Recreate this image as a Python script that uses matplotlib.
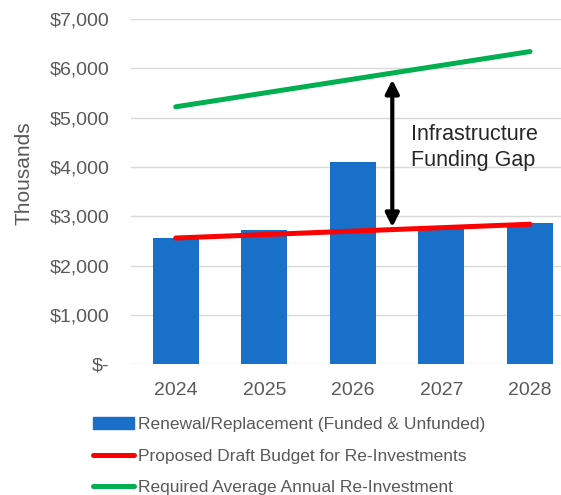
import matplotlib
matplotlib.use("Agg")
import matplotlib.pyplot as plt
from matplotlib.ticker import FuncFormatter
from matplotlib.patches import Patch
from matplotlib.lines import Line2D

years = ["2024", "2025", "2026", "2027", "2028"]
renewal = [2560, 2720, 4110, 2740, 2860]
draft_budget = [2560, 2630, 2700, 2770, 2840]
required = [5220, 5500, 5780, 6060, 6340]
yticks = [0, 1000, 2000, 3000, 4000, 5000, 6000, 7000]

BLUE = "#1870C8"
RED = "#FF0000"
GREEN = "#00B050"
GRAY = "#595959"

plt.rcParams["font.family"] = ["Liberation Sans", "DejaVu Sans"]

fig = plt.figure(figsize=(5.61, 4.95), dpi=100)
ax = fig.add_axes([0.2343, 0.264, 0.7894, 0.6976])

x = list(range(len(years)))
ax.bar(x, renewal, width=0.52, color=BLUE, zorder=2)
ax.plot(x, draft_budget, color=RED, lw=3.6, solid_capstyle="round", zorder=3)
ax.plot(x, required, color=GREEN, lw=3.6, solid_capstyle="round", zorder=3)

ax.set_xlim(-0.5, 4.5)
ax.set_ylim(0, 7000)
ax.set_yticks(yticks)
ax.yaxis.set_major_formatter(
    FuncFormatter(lambda v, p: "$-" if v == 0 else f"${v:,.0f}"))
ax.set_xticks(x)
ax.set_xticklabels(years)
ax.grid(axis="y", color="#D9D9D9", lw=1.0, zorder=0)
ax.set_axisbelow(True)
for s in ax.spines.values():
    s.set_visible(False)
ax.tick_params(axis="both", length=0, labelsize=14, colors=GRAY)
ax.tick_params(axis="y", pad=16)
ax.tick_params(axis="x", pad=13)

fig.text(24 / 561, 1 - 173 / 495, "Thousands", rotation=90, fontsize=15,
         color=GRAY, ha="center", va="center")

# Gap arrow between the two lines
gap_x = 2.445
ax.annotate("", xy=(gap_x, 5770), xytext=(gap_x, 2780),
            arrowprops=dict(arrowstyle="<|-|>", color="black", lw=3.0,
                            mutation_scale=20, shrinkA=0, shrinkB=0),
            zorder=4)
ax.text(2.655, 4880, "Infrastructure\nFunding Gap", fontsize=15.5,
        color="#262626", va="top", ha="left", linespacing=1.32)

handles = [
    Patch(facecolor=BLUE, edgecolor=BLUE),
    Line2D([], [], color=RED, lw=3.6, solid_capstyle="round"),
    Line2D([], [], color=GREEN, lw=3.6, solid_capstyle="round"),
]
labels = [
    "Renewal/Replacement (Funded & Unfunded)",
    "Proposed Draft Budget for Re-Investments",
    "Required Average Annual Re-Investment",
]
fig.legend(handles, labels, loc="upper left",
           bbox_to_anchor=(0.166, 0.157), frameon=False,
           prop={"size": 12.5}, labelcolor=GRAY,
           handlelength=2.35, handleheight=0.7, handletextpad=0.25,
           labelspacing=0.93, borderpad=0, borderaxespad=0)

fig.savefig("out.png", dpi=100)
